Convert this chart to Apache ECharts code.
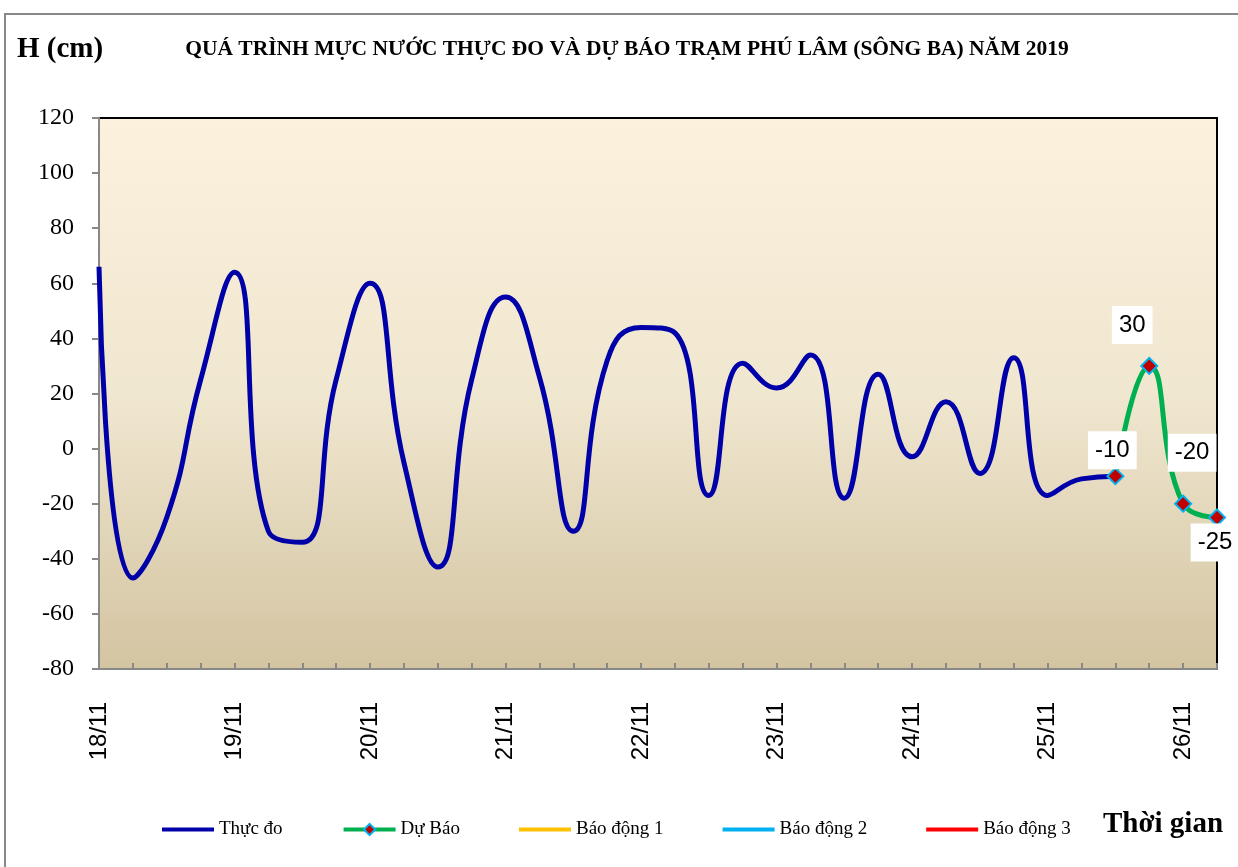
<!DOCTYPE html>
<html>
<head>
<meta charset="utf-8">
<script src="https://cdn.jsdelivr.net/npm/echarts@6/dist/echarts.min.js"></script>
<style>
html,body{margin:0;padding:0;background:#fff;}
#chart{width:1238px;height:867px;}
</style>
</head>
<body>
<div id="chart"></div>
<script>
// 6-hourly time steps
const categories = [
  '18/11 00h','18/11 06h','18/11 12h','18/11 18h',
  '19/11 00h','19/11 06h','19/11 12h','19/11 18h',
  '20/11 00h','20/11 06h','20/11 12h','20/11 18h',
  '21/11 00h','21/11 06h','21/11 12h','21/11 18h',
  '22/11 00h','22/11 06h','22/11 12h','22/11 18h',
  '23/11 00h','23/11 06h','23/11 12h','23/11 18h',
  '24/11 00h','24/11 06h','24/11 12h','24/11 18h',
  '25/11 00h','25/11 06h','25/11 12h','25/11 18h',
  '26/11 00h','26/11 06h'
];
const thucDo = [
  66, -47, -25, 25,
  64, -30, -34, 25,
  60, -5, -43, 25,
  55, 26, -30, 32,
  44, 42, -17, 31,
  22, 34, -18, 27,
  -3, 17, -9, 33,
  -17, -11, -10, null,
  null, null
];
const duBao = [
  null, null, null, null, null, null, null, null,
  null, null, null, null, null, null, null, null,
  null, null, null, null, null, null, null, null,
  null, null, null, null, null, null,
  -10, 30, -20, -25
];
const yTicks = { min: -80, max: 120, interval: 20 };
const legendNames = ['Thực đo', 'Dự Báo', 'Báo động 1', 'Báo động 2', 'Báo động 3'];
// label offsets (pixels) for the forecast value boxes
const labelOffsets = [[-3, -26], [-17, -41], [9, -51], [-2, 25]];

const chart = echarts.init(document.getElementById('chart'), null, { renderer: 'canvas' });

const forecastData = duBao.map((v, i) => {
  if (v === null) return null;
  const k = i - 30;
  return { value: v, label: { offset: labelOffsets[k] } };
});

const serif = '"Liberation Serif", "Times New Roman", serif';
const sans = '"Liberation Sans", Arial, sans-serif';
const lineIcon = 'path://M0,0 L50,0 L50,4 L0,4 Z';

const option = {
  animation: false,
  backgroundColor: '#ffffff',
  graphic: [
    { type: 'rect', shape: { x: 5, y: 14, width: 1250, height: 870 },
      style: { fill: 'none', stroke: '#888888', lineWidth: 2 }, z: -10, silent: true },
    { type: 'text', left: 17, top: 35,
      style: { text: 'H (cm)', font: 'bold 29px ' + serif, fill: '#000' } },
    { type: 'text', left: 1103, top: 810,
      style: { text: 'Thời gian', font: 'bold 29px ' + serif, fill: '#000' } }
  ],
  title: {
    text: 'QUÁ TRÌNH MỰC NƯỚC THỰC ĐO VÀ DỰ BÁO TRẠM PHÚ LÂM (SÔNG BA) NĂM 2019',
    left: 622, textAlign: 'center', top: 33,
    textStyle: { fontFamily: serif, fontWeight: 'bold', fontSize: 21.5, color: '#000' }
  },
  grid: {
    left: 99, top: 118, right: 21, bottom: 198,
    show: true, borderColor: '#000', borderWidth: 2,
    backgroundColor: new echarts.graphic.LinearGradient(0, 0, 0, 1, [
      { offset: 0, color: '#FCF1DD' },
      { offset: 0.5, color: '#F0E7D0' },
      { offset: 1, color: '#D3C4A1' }
    ])
  },
  legend: {
    data: [
      { name: legendNames[0], icon: lineIcon },
      { name: legendNames[1] },
      { name: legendNames[2], icon: lineIcon },
      { name: legendNames[3], icon: lineIcon },
      { name: legendNames[4], icon: lineIcon }
    ],
    left: 157, top: 815,
    itemGap: 59, itemWidth: 52, itemHeight: 14,
    textStyle: { fontFamily: serif, fontSize: 19, color: '#000' },
    lineStyle: { width: 4 }
  },
  xAxis: {
    type: 'category', data: categories, boundaryGap: false,
    axisLine: { onZero: false, lineStyle: { color: '#888', width: 2 } },
    axisTick: { show: true, inside: true, length: 6, interval: 0, alignWithLabel: true,
      lineStyle: { color: '#888', width: 2 } },
    axisLabel: {
      interval: 0, rotate: 90, margin: 33,
      fontFamily: sans, fontSize: 24, color: '#000',
      formatter: (v) => v.endsWith('00h') ? v.split(' ')[0] : ''
    },
    splitLine: { show: false }
  },
  yAxis: {
    type: 'value', min: yTicks.min, max: yTicks.max, interval: yTicks.interval,
    axisLine: { show: true, lineStyle: { color: '#888', width: 2 } },
    axisTick: { show: true, length: 7, lineStyle: { color: '#888', width: 2 } },
    axisLabel: { fontFamily: serif, fontSize: 24, color: '#000', margin: 25 },
    splitLine: { show: false }
  },
  series: [
    {
      name: 'Thực đo', type: 'line', data: thucDo, smooth: 0.5,
      symbol: 'none', showSymbol: false, connectNulls: false,
      lineStyle: { color: '#0000A8', width: 5 }, itemStyle: { color: '#0000A8' },
      z: 2
    },
    {
      name: 'Dự Báo', type: 'line', data: forecastData, smooth: 0.5,
      symbol: 'diamond', symbolSize: 16, showSymbol: true,
      lineStyle: { color: '#00B050', width: 5 },
      itemStyle: { color: '#C00000', borderColor: '#00B0F0', borderWidth: 2 },
      label: {
        show: true, position: 'inside',
        fontFamily: sans, fontSize: 24, color: '#000',
        backgroundColor: '#fff', padding: [8, 7, 6, 7]
      },
      z: 3
    },
    { name: 'Báo động 1', type: 'line', data: [], symbol: 'none',
      lineStyle: { color: '#FFC000', width: 3 }, itemStyle: { color: '#FFC000' } },
    { name: 'Báo động 2', type: 'line', data: [], symbol: 'none',
      lineStyle: { color: '#00B0F0', width: 3 }, itemStyle: { color: '#00B0F0' } },
    { name: 'Báo động 3', type: 'line', data: [], symbol: 'none',
      lineStyle: { color: '#FF0000', width: 3 }, itemStyle: { color: '#FF0000' } }
  ]
};
chart.setOption(option);
</script>
</body>
</html>
